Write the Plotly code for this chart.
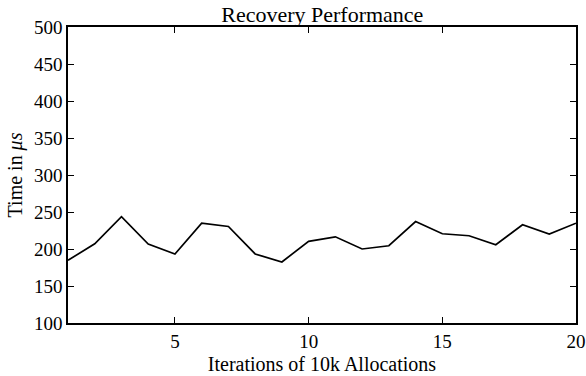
import plotly.graph_objects as go

iterations = list(range(1, 21))
times_us = [184.7, 207.1, 243.8, 206.7, 193.3, 234.9, 230.4, 193.3, 182.5, 210.4,
            216.5, 200.0, 204.4, 237.1, 220.6, 217.9, 205.8, 232.7, 220.2, 234.9]
x_ticks = [5, 10, 15, 20]
y_ticks = [100, 150, 200, 250, 300, 350, 400, 450, 500]

FONT = "Liberation Serif, DejaVu Serif, serif"

fig = go.Figure()
fig.add_trace(go.Scatter(x=iterations, y=times_us, mode="lines",
                         line=dict(color="black", width=1.7), showlegend=False))

axis_common = dict(showgrid=False, zeroline=False, showline=True, linecolor="black",
                   linewidth=1.6, mirror="allticks", ticks="inside", ticklen=6,
                   tickwidth=1, tickcolor="black", automargin=False,
                   ticklabeloverflow="allow",
                   tickfont=dict(family=FONT, size=19, color="black"))

fig.update_layout(
    width=586, height=376,
    margin=dict(l=68, r=10, t=27, b=53),
    paper_bgcolor="white", plot_bgcolor="white",
    font=dict(family=FONT, color="black"),
    title=dict(text="Recovery Performance", x=0.55, xanchor="center",
               y=0.962, yanchor="middle",
               font=dict(family=FONT, size=22, color="black")),
    xaxis=dict(range=[1, 20], tickvals=x_ticks,
               title=dict(text="Iterations of 10k Allocations", standoff=6,
                          font=dict(family=FONT, size=20, color="black")),
               **axis_common),
    yaxis=dict(range=[100, 500], tickvals=y_ticks,
               title=dict(text="Time in <i>μs</i>", standoff=6,
                          font=dict(family=FONT, size=20, color="black")),
               **axis_common),
)

fig.write_html("out.html",
               config={"displayModeBar": False},
               post_script="document.body.style.margin='0';document.body.style.overflow='hidden';")
